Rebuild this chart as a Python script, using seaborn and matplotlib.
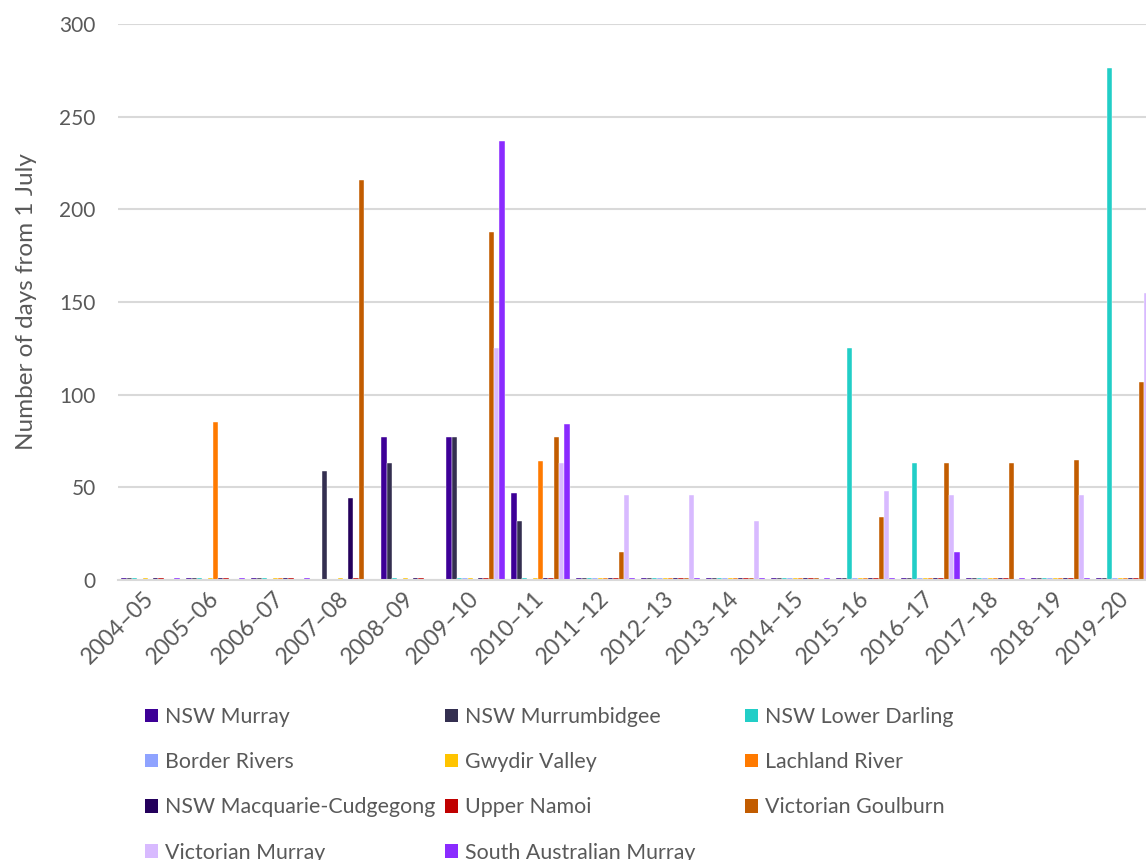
import numpy as np
import pandas as pd
import matplotlib
matplotlib.use("Agg")
import matplotlib.pyplot as plt
from matplotlib.patches import Patch
import seaborn as sns

# Water years
years = ["2004–05", "2005–06", "2006–07", "2007–08", "2008–09", "2009–10",
         "2010–11", "2011–12", "2012–13", "2013–14", "2014–15", "2015–16",
         "2016–17", "2017–18", "2018–19", "2019–20"]

# Number of days from 1 July, per valley
nsw_murray        = [1, 1, 1, 0, 77, 77, 47, 1, 1, 1, 1, 1, 1, 1, 1, 1]
nsw_murrumbidgee  = [1, 1, 1, 59, 63, 77, 32, 1, 1, 1, 1, 1, 1, 1, 1, 1]
nsw_lower_darling = [1, 1, 1, 0, 1, 1, 1, 1, 1, 1, 1, 125, 63, 1, 1, 276]
border_rivers     = [0, 0, 0, 0, 0, 1, 0, 1, 1, 1, 1, 1, 1, 1, 1, 1]
gwydir_valley     = [1, 1, 1, 1, 1, 1, 1, 1, 1, 1, 1, 1, 1, 1, 1, 1]
lachlan_river     = [0, 85, 1, 0, 0, 0, 64, 1, 1, 1, 1, 1, 1, 1, 1, 1]
macquarie_cudg    = [1, 1, 1, 44, 1, 1, 1, 1, 1, 1, 1, 1, 1, 1, 1, 1]
upper_namoi       = [1, 1, 1, 1, 1, 1, 1, 1, 1, 1, 1, 1, 1, 1, 1, 1]
vic_goulburn      = [0, 0, 0, 216, 0, 188, 77, 15, 1, 1, 1, 34, 63, 63, 65, 107]
vic_murray        = [0, 0, 0, 0, 0, 125, 63, 46, 46, 32, 0, 48, 46, 0, 46, 155]
sa_murray         = [1, 1, 1, 0, 0, 237, 84, 1, 1, 1, 1, 1, 15, 1, 1, 0]

series_names = ["NSW Murray", "NSW Murrumbidgee", "NSW Lower Darling",
                "Border Rivers", "Gwydir Valley", "Lachland River",
                "NSW Macquarie-Cudgegong", "Upper Namoi", "Victorian Goulburn",
                "Victorian Murray", "South Australian Murray"]
series_values = [nsw_murray, nsw_murrumbidgee, nsw_lower_darling, border_rivers,
                 gwydir_valley, lachlan_river, macquarie_cudg, upper_namoi,
                 vic_goulburn, vic_murray, sa_murray]
series_colors = ["#3D0097", "#342F50", "#22CEC7", "#8FA3FF", "#FFC400",
                 "#FF7A00", "#24005C", "#C00000", "#C25C00", "#D8BAFF",
                 "#8A2BFF"]

rows = []
for name, vals in zip(series_names, series_values):
    for yr, v in zip(years, vals):
        rows.append({"year": yr, "series": name, "days": v})
df = pd.DataFrame(rows)

sns.set_theme(style="white")
plt.rcParams["font.family"] = ["Lato", "DejaVu Sans"]
text_col = "#595959"
grid_col = "#D9D9D9"

W, H = 1146, 860
fig = plt.figure(figsize=(W / 100, H / 100), dpi=100)
left_px, right_px, top_px, bottom_px = 118, 1158, 24, 580
ax = fig.add_axes([left_px / W, 1 - bottom_px / H,
                   (right_px - left_px) / W, (bottom_px - top_px) / H])

sns.barplot(data=df, x="year", y="days", hue="series", order=years,
            hue_order=series_names, palette=series_colors, width=0.9,
            edgecolor="white", linewidth=0.3, saturation=1, legend=False,
            ax=ax)

ax.set_xlim(-0.5, len(years) - 0.5)
ax.set_ylim(0, 300)
ax.set_yticks(np.arange(0, 301, 50))
ax.yaxis.grid(True, color=grid_col, linewidth=1.5)
ax.set_axisbelow(True)
for s in ["top", "right", "left"]:
    ax.spines[s].set_visible(False)
ax.spines["bottom"].set_color(grid_col)
ax.spines["bottom"].set_linewidth(1.5)
ax.tick_params(axis="y", length=0, pad=16, labelsize=15, labelcolor=text_col)
ax.tick_params(axis="x", length=0, pad=11, labelsize=16.5, labelcolor=text_col)
for lab in ax.get_xticklabels():
    lab.set_rotation(45)
    lab.set_ha("right")
    lab.set_va("center")
    lab.set_rotation_mode("anchor")
ax.set_xlabel("")
ax.set_ylabel("Number of days from 1 July", fontsize=17.5, color=text_col,
              labelpad=16)

# Legend laid out in three fixed-width columns, filled row by row
handles = [Patch(facecolor=c, edgecolor="none") for c in series_colors]
col_x = [145, 445, 745]
for ci, x0 in enumerate(col_x):
    idx = list(range(ci, len(series_names), 3))
    fig.legend([handles[i] for i in idx], [series_names[i] for i in idx],
               loc="upper left", bbox_to_anchor=(x0 / W, 1 - 707 / H),
               frameon=False, fontsize=15.4, labelcolor=text_col,
               handlelength=0.6, handleheight=0.6, handletextpad=0.35,
               labelspacing=1.18, borderaxespad=0, borderpad=0)

fig.savefig("out.png", dpi=100)
